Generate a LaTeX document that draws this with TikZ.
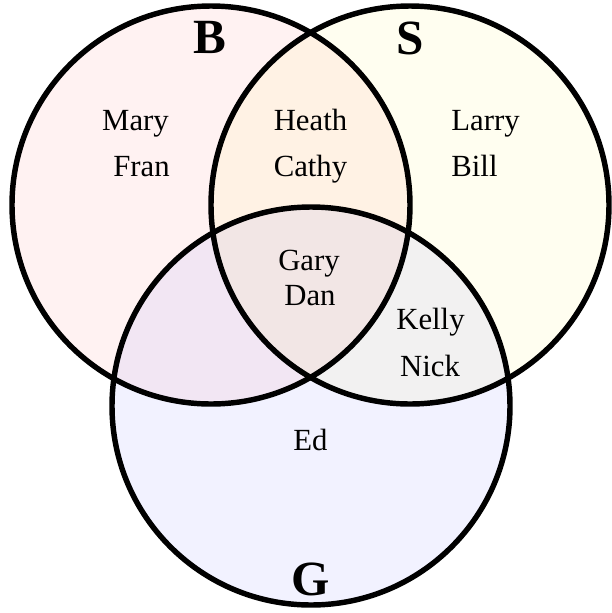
\documentclass[tikz,border=0pt]{standalone}
\usepackage{fontspec}
\setmainfont{Liberation Serif}
\begin{document}
\begin{tikzpicture}[
		member/.style={font=\fontsize{17.5}{20}\selectfont, anchor=base, inner sep=0pt},
		setname/.style={font=\fontsize{28}{32}\selectfont\bfseries, anchor=base, inner sep=0pt}]
		\useasboundingbox (0,0) rectangle (12.24,-12.26);

		\coordinate (cB) at (4.22,-4.1);
		\coordinate (cS) at (8.2,-4.1);
		\coordinate (cG) at (6.22,-8.12);

		\fill[red, fill opacity=.05] (cB) circle (3.98);
		\fill[yellow, fill opacity=.06] (cS) circle (3.98);
		\fill[blue, fill opacity=.05] (cG) circle (3.98);

		\draw[line width=3.1pt] (cB) circle (3.98);
		\draw[line width=3.1pt] (cS) circle (3.98);
		\draw[line width=3.1pt] (cG) circle (3.98);

		\node[setname] (B) at (4.2,-1.06) {B};
		\node[setname] (S) at (8.2,-1.08) {S};
		\node[setname] (G) at (6.22,-11.9) {G};

		\node[member] (mary) at (2.71,-2.6) {Mary};
		\node[member] (fran) at (2.83,-3.52) {Fran};
		\node[member] (heath) at (6.21,-2.6) {Heath};
		\node[member] (cathy) at (6.21,-3.52) {Cathy};
		\node[member] (larry) at (9.71,-2.6) {Larry};
		\node[member] (bill) at (9.49,-3.52) {Bill};
		\node[member] (gary) at (6.18,-5.4) {Gary};
		\node[member] (dan) at (6.2,-6.1) {Dan};
		\node[member] (kelly) at (8.61,-6.58) {Kelly};
		\node[member] (nick) at (8.6,-7.52) {Nick};
		\node[member] (ed) at (6.21,-9.0) {Ed};
	\end{tikzpicture}
\end{document}
